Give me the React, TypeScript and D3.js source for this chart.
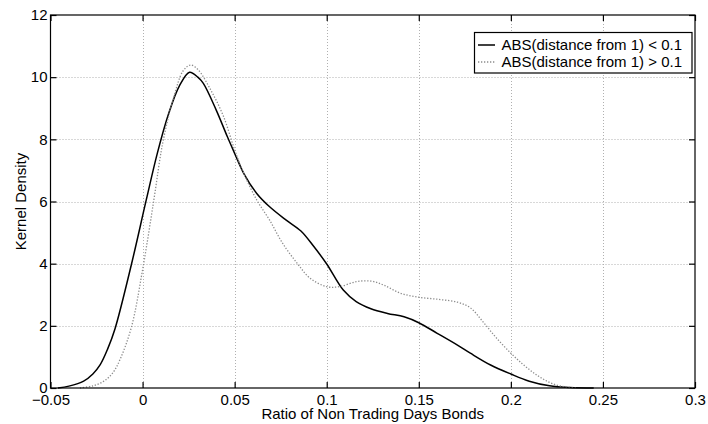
import React, { useRef, useEffect } from "react";
import * as d3 from "d3";

// Kernel density estimates
const solidX = [-0.046, -0.04, -0.032, -0.027, -0.023, -0.019, -0.015, -0.006, 0.002, 0.008, 0.014, 0.02, 0.0255, 0.03, 0.033, 0.04, 0.046, 0.05, 0.055, 0.062, 0.069, 0.078, 0.086, 0.093, 0.1, 0.109, 0.116, 0.124, 0.133, 0.142, 0.15, 0.16, 0.171, 0.178, 0.189, 0.2, 0.21, 0.221, 0.232, 0.245];
const solidY = [0, 0.06, 0.22, 0.45, 0.75, 1.25, 1.9, 3.99, 6.05, 7.55, 8.8, 9.72, 10.16, 10.0, 9.8, 8.94, 8.09, 7.55, 6.9, 6.26, 5.83, 5.4, 5.05, 4.55, 3.99, 3.15, 2.78, 2.55, 2.4, 2.29, 2.1, 1.76, 1.38, 1.12, 0.74, 0.45, 0.22, 0.07, 0.015, 0];

const dottedX = [-0.034, -0.027, -0.021, -0.016, -0.012, -0.006, 0, 0.006, 0.011, 0.017, 0.022, 0.026, 0.03, 0.037, 0.044, 0.05, 0.055, 0.062, 0.069, 0.076, 0.084, 0.091, 0.1, 0.107, 0.116, 0.124, 0.131, 0.14, 0.15, 0.161, 0.171, 0.178, 0.185, 0.192, 0.2, 0.207, 0.214, 0.221, 0.228, 0.236];
const dottedY = [0, 0.07, 0.22, 0.5, 0.95, 1.97, 3.8, 6.0, 7.9, 9.37, 10.2, 10.39, 10.25, 9.59, 8.73, 7.66, 6.9, 6.05, 5.4, 4.66, 4.01, 3.53, 3.26, 3.26, 3.42, 3.44, 3.31, 3.05, 2.92, 2.85, 2.76, 2.58, 2.12, 1.62, 1.12, 0.74, 0.42, 0.18, 0.05, 0];

const xTicks = [-0.05, 0, 0.05, 0.1, 0.15, 0.2, 0.25, 0.3];
const yTicks = [0, 2, 4, 6, 8, 10, 12];

const legendLabels = ["ABS(distance from 1) < 0.1", "ABS(distance from 1) > 0.1"];
const xLabel = "Ratio of Non Trading Days Bonds";
const yLabel = "Kernel Density";

const FONT = "'Liberation Sans', Arial, Helvetica, sans-serif";
const FONT_SIZE = "15px";

const DensityChart = () => {
  const svgRef = useRef<SVGSVGElement | null>(null);

  useEffect(() => {
    // Dimensions
    const dims = { width: 708, height: 424, left: 50.5, right: 695, top: 15, bottom: 388 };

    const svg = d3.select(svgRef.current).attr("width", dims.width).attr("height", dims.height);
    svg.selectAll("*").remove();

    // Scales
    const xScale = d3.scaleLinear().domain([-0.05, 0.3]).range([dims.left, dims.right]);
    const yScale = d3.scaleLinear().domain([0, 12]).range([dims.bottom, dims.top]);

    svg.append("rect").attr("width", dims.width).attr("height", dims.height).attr("fill", "#fff");

    // Grid
    const grid = svg.append("g").attr("stroke", "#b0b0b0").attr("stroke-width", 1).attr("stroke-dasharray", "1,2");
    grid
      .selectAll(".gx")
      .data(xTicks.slice(1, -1))
      .join("line")
      .attr("x1", (d) => Math.round(xScale(d)) + 0.5)
      .attr("x2", (d) => Math.round(xScale(d)) + 0.5)
      .attr("y1", dims.top)
      .attr("y2", dims.bottom);
    grid
      .selectAll(".gy")
      .data(yTicks.slice(1, -1))
      .join("line")
      .attr("x1", dims.left)
      .attr("x2", dims.right)
      .attr("y1", (d) => Math.round(yScale(d)) + 0.5)
      .attr("y2", (d) => Math.round(yScale(d)) + 0.5);

    // Lines
    const solidLine = d3
      .line<number>()
      .x((d) => xScale(d))
      .y((_, i) => yScale(solidY[i]))
      .curve(d3.curveCatmullRom.alpha(0.5));
    svg
      .append("path")
      .attr("d", solidLine(solidX))
      .attr("fill", "none")
      .attr("stroke", "#000")
      .attr("stroke-width", 1.5);

    const dottedLine = d3
      .line<number>()
      .x((d) => xScale(d))
      .y((_, i) => yScale(Math.max(0, dottedY[i])))
      .curve(d3.curveCatmullRom.alpha(0.5));
    svg
      .append("path")
      .attr("d", dottedLine(dottedX))
      .attr("fill", "none")
      .attr("stroke", "#8c8c8c")
      .attr("stroke-width", 1.3)
      .attr("stroke-dasharray", "1.3,1.7");

    // Box
    svg
      .append("rect")
      .attr("x", dims.left)
      .attr("y", dims.top)
      .attr("width", dims.right - dims.left)
      .attr("height", dims.bottom - dims.top)
      .attr("fill", "none")
      .attr("stroke", "#000")
      .attr("stroke-width", 1.2);

    // Axes (inward ticks on all four sides)
    const styleAxis = (g) => {
      g.select(".domain").remove();
      g.selectAll("line").attr("stroke", "#000").attr("stroke-width", 1.2);
      g.selectAll("text").attr("fill", "#000").style("font-family", FONT).style("font-size", FONT_SIZE);
    };

    svg
      .append("g")
      .attr("transform", `translate(0,${dims.bottom})`)
      .call(d3.axisBottom(xScale).tickValues(xTicks).tickSize(-6).tickPadding(6).tickFormat(d3.format("~g")))
      .call(styleAxis);
    svg
      .append("g")
      .attr("transform", `translate(0,${dims.top})`)
      .call(d3.axisTop(xScale).tickValues(xTicks).tickSize(-6).tickFormat(() => ""))
      .call(styleAxis);
    svg
      .append("g")
      .attr("transform", `translate(${dims.left},0)`)
      .call(d3.axisLeft(yScale).tickValues(yTicks).tickSize(-6).tickPadding(3).tickFormat(d3.format("~g")))
      .call(styleAxis);
    svg
      .append("g")
      .attr("transform", `translate(${dims.right},0)`)
      .call(d3.axisRight(yScale).tickValues(yTicks).tickSize(-6).tickFormat(() => ""))
      .call(styleAxis);

    // Axis labels
    svg
      .append("text")
      .attr("x", (dims.left + dims.right) / 2)
      .attr("y", 418.5)
      .attr("text-anchor", "middle")
      .style("font-family", FONT)
      .style("font-size", FONT_SIZE)
      .text(xLabel);
    svg
      .append("text")
      .attr("transform", `translate(26,${(dims.top + dims.bottom) / 2}) rotate(-90)`)
      .attr("text-anchor", "middle")
      .style("font-family", FONT)
      .style("font-size", FONT_SIZE)
      .text(yLabel);

    // Legend
    const legend = svg.append("g");
    legend
      .append("rect")
      .attr("x", 474.5)
      .attr("y", 32.5)
      .attr("width", 217.5)
      .attr("height", 40.5)
      .attr("fill", "#fff")
      .attr("stroke", "#000")
      .attr("stroke-width", 1.2);
    const rows = [
      { label: legendLabels[0], stroke: "#000", width: 1.5, dash: null, y: 45 },
      { label: legendLabels[1], stroke: "#8c8c8c", width: 1.3, dash: "1.3,1.7", y: 62 },
    ];
    rows.forEach((r) => {
      legend
        .append("line")
        .attr("x1", 478)
        .attr("x2", 495)
        .attr("y1", r.y)
        .attr("y2", r.y)
        .attr("stroke", r.stroke)
        .attr("stroke-width", r.width)
        .attr("stroke-dasharray", r.dash);
      legend
        .append("text")
        .attr("x", 501.5)
        .attr("y", r.y)
        .attr("dy", "0.36em")
        .style("font-family", FONT)
        .style("font-size", FONT_SIZE)
        .text(r.label);
    });
  }, []);

  return (
    <div style={{ position: "absolute", left: 0, top: 0 }}>
      <svg ref={svgRef} style={{ display: "block" }} />
    </div>
  );
};

const App = () => {
  return <DensityChart />;
};

export default App;
